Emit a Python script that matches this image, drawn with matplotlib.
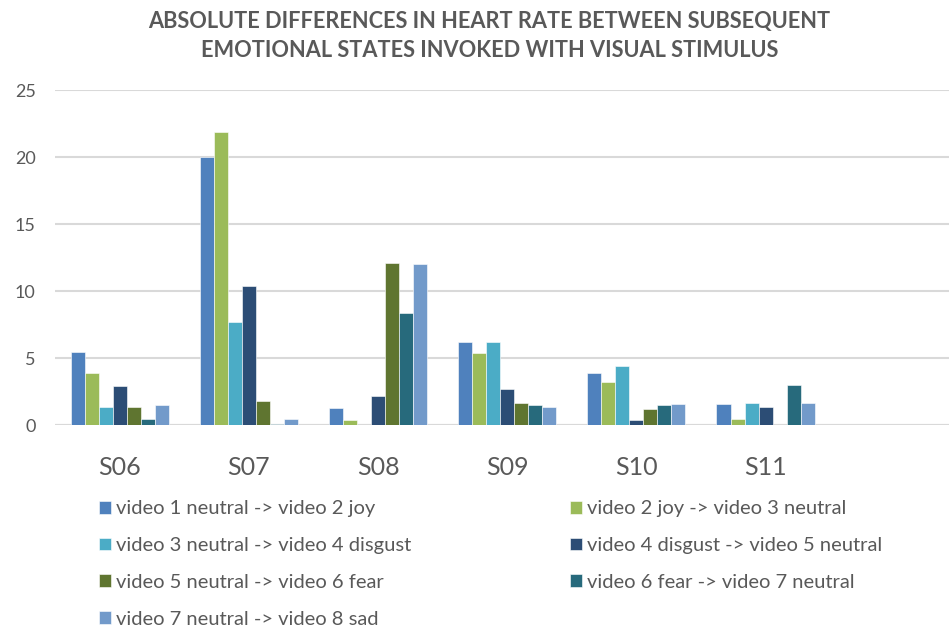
import matplotlib
matplotlib.use("Agg")
import matplotlib.pyplot as plt
import numpy as np

plt.rcParams['font.family'] = ['Lato', 'DejaVu Sans']

subjects = ["S06", "S07", "S08", "S09", "S10", "S11"]

transitions = [
    "video 1 neutral -> video 2 joy",
    "video 2 joy -> video 3 neutral",
    "video 3 neutral -> video 4 disgust",
    "video 4 disgust -> video 5 neutral",
    "video 5 neutral -> video 6 fear",
    "video 6 fear -> video 7 neutral",
    "video 7 neutral -> video 8 sad",
]

# absolute heart-rate difference per subject, one list per transition
v1_v2 = [5.5, 20.0, 1.3, 6.2, 3.9, 1.6]
v2_v3 = [3.9, 21.9, 0.4, 5.4, 3.2, 0.5]
v3_v4 = [1.4, 7.7, 0.0, 6.2, 4.4, 1.7]
v4_v5 = [2.9, 10.4, 2.2, 2.7, 0.4, 1.4]
v5_v6 = [1.4, 1.8, 12.1, 1.7, 1.2, 0.0]
v6_v7 = [0.5, 0.1, 8.4, 1.5, 1.5, 3.0]
v7_v8 = [1.5, 0.5, 12.0, 1.4, 1.6, 1.7]

series = [v1_v2, v2_v3, v3_v4, v4_v5, v5_v6, v6_v7, v7_v8]
colors = ["#4F81BD", "#9BBB59", "#4BACC6", "#2C4D75",
          "#5F7530", "#276A7C", "#729ACA"]

text_color = "#595959"
grid_color = "#D9D9D9"

fig = plt.figure(figsize=(9.49, 6.31), dpi=100)
ax = fig.add_axes([0.058, 0.326, 0.942, 0.531])

x = np.arange(len(subjects))
bar_w = 0.1085
handles = []
for i, (vals, col, lab) in enumerate(zip(series, colors, transitions)):
    offs = (i - (len(series) - 1) / 2) * bar_w
    bars = ax.bar(x + offs, vals, width=bar_w, color=col, label=lab,
                  edgecolor="white", linewidth=0.4, zorder=3)
    handles.append(bars)

ax.set_ylim(0, 25)
ax.set_xlim(-0.5, 6.42)
ax.set_yticks(np.arange(0, 26, 5))
ax.set_xticks(x)
ax.set_xticklabels(subjects)
ax.yaxis.grid(True, color=grid_color, linewidth=1.5, zorder=0)
ax.set_axisbelow(True)
for s in ax.spines.values():
    s.set_visible(False)
ax.axhline(0, color=grid_color, linewidth=1.5, zorder=1)

ax.tick_params(axis="y", length=0, pad=14, labelsize=13, labelcolor=text_color)
ax.tick_params(axis="x", length=0, pad=22, labelsize=18, labelcolor=text_color)

fig.text(0.516, 0.982,
         "ABSOLUTE DIFFERENCES IN HEART RATE BETWEEN SUBSEQUENT\n"
         "EMOTIONAL STATES INVOKED WITH VISUAL STIMULUS",
         ha="center", va="top", fontsize=15.7, fontweight="bold",
         color=text_color, linespacing=1.45)

# legend laid out row by row: reorder for column-major filling
order = [0, 2, 4, 6, 1, 3, 5]
leg = fig.legend([handles[i] for i in order], [transitions[i] for i in order],
                 ncol=2, loc="upper left", bbox_to_anchor=(0.104, 0.207),
                 frameon=False, fontsize=14.5, labelcolor=text_color,
                 handlelength=0.6, handleheight=0.6, handletextpad=0.25,
                 labelspacing=0.98, columnspacing=7.9, borderaxespad=0,
                 borderpad=0)

fig.savefig("out.png", dpi=100)
